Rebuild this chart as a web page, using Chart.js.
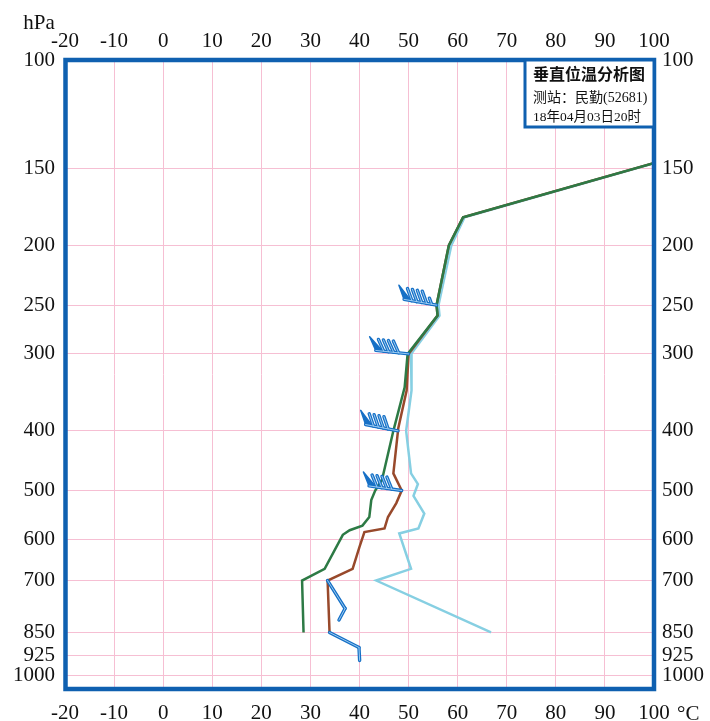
<!DOCTYPE html>
<html>
<head>
<meta charset="utf-8">
<script src="https://cdn.jsdelivr.net/npm/chart.js@4.4.1/dist/chart.umd.min.js"></script>
<style>
  html, body { margin: 0; padding: 0; background: #fff; }
  #wrap { width: 710px; height: 721px; position: relative; }
</style>
</head>
<body>
<div id="wrap"><canvas id="chart"></canvas></div>
<script>
// Pressure levels labelled on both vertical axes (hPa)
const pressureTicks = [100, 150, 200, 250, 300, 400, 500, 600, 700, 850, 925, 1000];

// Potential temperature θ (°C) — green
const thetaP = [100, 180, 200, 250, 260, 300, 340, 400, 480, 500, 518, 552, 570, 580, 590, 670, 700, 850];
const thetaV = [174, 61.1, 58.2, 55.7, 55.9, 49.8, 49.2, 46.9, 44.6, 43.2, 42.4, 42.0, 40.6, 38.0, 36.6, 32.9, 28.3, 28.6];

// Equivalent potential temperature θse (°C) — brown
const thetaSeP = [100, 180, 200, 250, 260, 300, 344, 396, 469, 500, 524, 552, 576, 584, 617, 670, 700, 850];
const thetaSeV = [174, 61.1, 58.2, 55.7, 55.9, 50.0, 49.6, 47.9, 46.9, 48.6, 47.5, 45.8, 45.1, 41.0, 40.0, 38.6, 33.5, 33.9];

// Saturated equivalent potential temperature θse* (°C) — light blue
const thetaSatP = [100, 180, 200, 250, 260, 300, 344, 400, 469, 488, 510, 545, 576, 587, 670, 700, 850];
const thetaSatV = [174, 61.4, 58.7, 56.1, 56.3, 50.5, 50.6, 49.5, 50.5, 51.9, 51.0, 53.2, 52.0, 48.1, 50.5, 43.4, 66.8];

// Winds: level (hPa), direction (deg, from), speed (kt)
const windP   = [250, 300, 400, 500, 700, 850];
const windDir = [280, 276, 281, 278, 148, 117];
const windSpd = [95, 90, 90, 90, 10, 10];

// Caption
const captionTitle = '垂直位温分析图';
const captionStation = '测站：民勤(52681)';
const captionTime = '18年04月03日20时';

const SERIF = "'Liberation Serif', 'Times New Roman', serif";
const FRAME_BLUE = '#0f60b0';
const GRID_PINK = '#f6bfd3';
const BARB_BLUE = '#1670c6';

Chart.defaults.font.family = SERIF;
Chart.defaults.font.size = 21;
Chart.defaults.color = '#111';

function toPoints(ps, vs) {
  return ps.map((p, i) => ({ x: vs[i], y: p }));
}

// value of a profile at pressure p, interpolated in ln(p)
function profileAt(ps, vs, p) {
  for (let i = 0; i < ps.length - 1; i++) {
    if (p >= ps[i] && p <= ps[i + 1]) {
      const t = (Math.log(p) - Math.log(ps[i])) / (Math.log(ps[i + 1]) - Math.log(ps[i]));
      return vs[i] + t * (vs[i + 1] - vs[i]);
    }
  }
  return vs[vs.length - 1];
}

function drawBarb(ctx, ax, ay, dirDeg, speed) {
  const L = 33, F = 13, GAP = 5, PW = 7;
  const b = dirDeg * Math.PI / 180;
  const ux = Math.sin(b), uy = -Math.cos(b);
  const fb = b + Math.PI / 3;
  const fx = Math.sin(fb), fy = -Math.cos(fb);
  const segs = [[ax, ay, ax + ux * L, ay + uy * L]];
  const tris = [];
  const pennants = Math.floor(speed / 50);
  const rest = speed - pennants * 50;
  const full = Math.floor(rest / 10);
  const half = rest - full * 10 >= 5;
  let s = L;
  for (let i = 0; i < pennants; i++) {
    const bx = ax + ux * s, by = ay + uy * s;
    tris.push([bx, by, bx + fx * (F + 2), by + fy * (F + 2), ax + ux * (s - PW), ay + uy * (s - PW)]);
    s -= PW + 1;
  }
  for (let i = 0; i < full; i++) {
    const bx = ax + ux * s, by = ay + uy * s;
    segs.push([bx, by, bx + fx * F, by + fy * F]);
    s -= GAP;
  }
  if (half) {
    const bx = ax + ux * s, by = ay + uy * s;
    segs.push([bx, by, bx + fx * F / 2, by + fy * F / 2]);
  }
  ctx.save();
  ctx.lineCap = 'round';
  ctx.lineJoin = 'round';
  ctx.fillStyle = BARB_BLUE;
  ctx.strokeStyle = BARB_BLUE;
  ctx.lineWidth = 1.5;
  tris.forEach(t => {
    ctx.beginPath();
    ctx.moveTo(t[0], t[1]); ctx.lineTo(t[2], t[3]); ctx.lineTo(t[4], t[5]); ctx.closePath();
    ctx.fill(); ctx.stroke();
  });
  ctx.lineWidth = 3.4;
  segs.forEach(sg => { ctx.beginPath(); ctx.moveTo(sg[0], sg[1]); ctx.lineTo(sg[2], sg[3]); ctx.stroke(); });
  ctx.strokeStyle = '#a8d4f5';
  ctx.lineWidth = 0.9;
  segs.forEach(sg => { ctx.beginPath(); ctx.moveTo(sg[0], sg[1]); ctx.lineTo(sg[2], sg[3]); ctx.stroke(); });
  ctx.restore();
}

const decor = {
  id: 'decor',
  afterDatasetsDraw(chart) {
    const { ctx, chartArea: a } = chart;
    const xs = chart.scales.x, ys = chart.scales.y;

    // wind barbs anchored on the θse profile
    windP.forEach((p, i) => {
      const v = profileAt(thetaSeP, thetaSeV, p);
      drawBarb(ctx, xs.getPixelForValue(v), ys.getPixelForValue(p), windDir[i], windSpd[i]);
    });

    // plot frame
    ctx.save();
    ctx.strokeStyle = FRAME_BLUE;
    ctx.lineWidth = 4.5;
    ctx.strokeRect(a.left + 0.5, a.top, a.right - a.left - 0.5, a.bottom - a.top);

    // caption box
    const bw = 129, bh = 67;
    const bx = a.right - bw, by = a.top;
    ctx.fillStyle = '#fff';
    ctx.fillRect(bx, by, bw, bh);
    ctx.lineWidth = 3;
    ctx.strokeRect(bx, by, bw, bh);
    ctx.fillStyle = '#111';
    ctx.textAlign = 'left';
    ctx.textBaseline = 'middle';
    ctx.font = "bold 16px 'Noto Sans CJK SC', sans-serif";
    ctx.fillText(captionTitle, bx + 8, by + 14);
    ctx.font = "14px 'Liberation Serif', 'Noto Sans CJK SC', serif";
    ctx.fillText(captionStation, bx + 8, by + 38);
    ctx.font = "13.5px 'Liberation Serif', 'Noto Sans CJK SC', serif";
    ctx.fillText(captionTime, bx + 8, by + 57);
    ctx.restore();
  },
  afterDraw(chart) {
    const { ctx, chartArea: a } = chart;
    ctx.save();
    ctx.fillStyle = '#111';
    ctx.font = '21px ' + SERIF;
    ctx.textBaseline = 'middle';
    ctx.textAlign = 'center';
    ctx.fillText('hPa', 39, 23);
    ctx.textAlign = 'left';
    ctx.fillText('°C', a.right + 23, a.bottom + 25);
    ctx.restore();
  }
};

const tempAxis = (position, pad, h) => ({
  type: 'linear',
  position,
  min: -20,
  max: 100,
  ticks: { stepSize: 10, padding: pad, autoSkip: false, maxRotation: 0 },
  grid: { display: position === 'bottom', color: GRID_PINK, lineWidth: 1, drawTicks: false },
  border: { display: false },
  afterFit: s => { s.height = h; }
});

const pressAxis = (position, pad, w) => ({
  type: 'logarithmic',
  position,
  reverse: true,
  min: 100,
  max: 1050,
  afterBuildTicks: s => { s.ticks = pressureTicks.map(v => ({ value: v })); },
  ticks: { padding: pad, autoSkip: false, callback: v => String(v) },
  grid: { display: position === 'left', color: GRID_PINK, lineWidth: 1, drawTicks: false },
  border: { display: false },
  afterFit: s => { s.width = w; }
});

const lineStyle = (color) => ({
  borderColor: color,
  backgroundColor: color,
  borderWidth: 2.5,
  pointRadius: 0,
  tension: 0,
  fill: false,
  clip: 1,
  xAxisID: 'x',
  yAxisID: 'y'
});

new Chart(document.getElementById('chart'), {
  type: 'line',
  data: {
    datasets: [
      Object.assign({ label: 'θ', data: toPoints(thetaP, thetaV) }, lineStyle('#2d7a45')),
      Object.assign({ label: 'θse', data: toPoints(thetaSeP, thetaSeV) }, lineStyle('#98492b')),
      Object.assign({ label: 'θse*', data: toPoints(thetaSatP, thetaSatV) }, lineStyle('#86cfe2'))
    ]
  },
  options: {
    responsive: true,
    maintainAspectRatio: false,
    animation: false,
    layout: { padding: 0 },
    plugins: { legend: { display: false }, tooltip: { enabled: false } },
    scales: {
      x: tempAxis('bottom', 12, 32),
      x2: tempAxis('top', 6, 60),
      y: pressAxis('left', 10, 65),
      y2: pressAxis('right', 8, 56)
    }
  },
  plugins: [decor]
});
</script>
</body>
</html>
